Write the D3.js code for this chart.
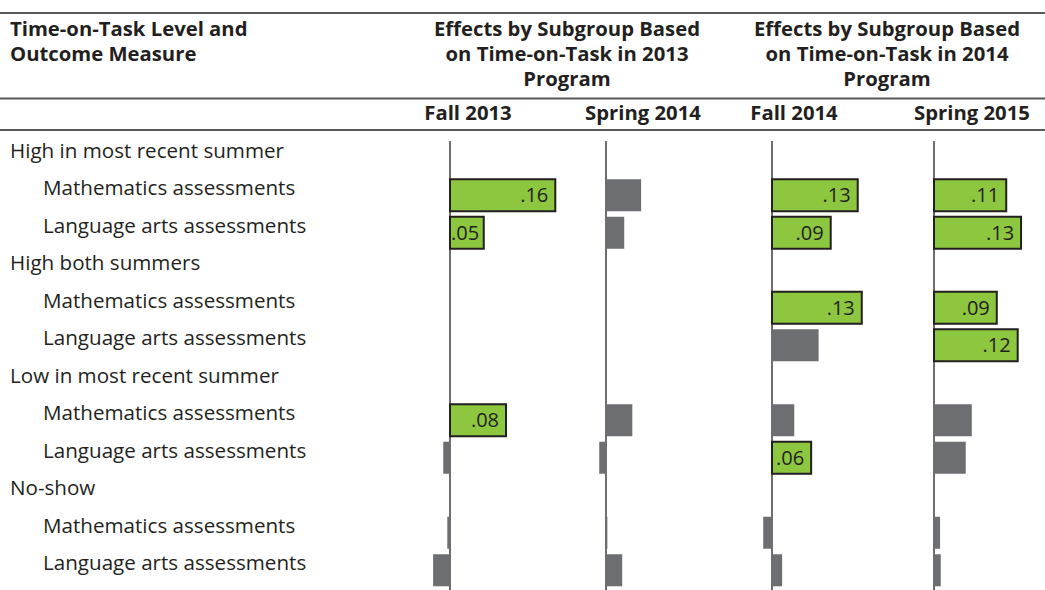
<!DOCTYPE html>
<html>
<head>
	<meta charset="utf-8">
	<script src="https://cdn.jsdelivr.net/npm/d3@7"></script>
	<style type="text/css">
		body { margin: 0; padding: 0; background: #fff; }
		svg text { font-family: "Open Sans", "Noto Sans", sans-serif; fill: #231f20; }
		.hdr { font-weight: bold; font-size: 20.3px; }
		.lbl { font-size: 20.6px; }
		.val { font-size: 20px; }
	</style>
</head>
<body>
	<script type="text/javascript">

		// row labels (group heading followed by its two outcome rows)
		var groups = ["High in most recent summer", "High both summers", "Low in most recent summer", "No-show"];
		var measures = ["Mathematics assessments", "Language arts assessments"];

		// panel headings
		var programs = ["Effects by Subgroup Based|on Time-on-Task in 2013|Program", "Effects by Subgroup Based|on Time-on-Task in 2014|Program"];
		var panels = ["Fall 2013", "Spring 2014", "Fall 2014", "Spring 2015"];

		// effect sizes, 8 outcome rows per panel (null = not estimated)
		var fall2013   = [0.156, 0.050, null, null, 0.083, -0.010, -0.004, -0.025];
		var spring2014 = [0.052, 0.027, null, null, 0.039, -0.010, 0.002, 0.024];
		var fall2014   = [0.127, 0.087, 0.133, 0.069, 0.033, 0.058, -0.013, 0.015];
		var spring2015 = [0.107, 0.129, 0.093, 0.124, 0.056, 0.047, 0.009, 0.010];

		// statistically significant (green, labelled)
		var sig2013f = [1, 1, 0, 0, 1, 0, 0, 0];
		var sig2014s = [0, 0, 0, 0, 0, 0, 0, 0];
		var sig2014f = [1, 1, 1, 0, 0, 1, 0, 0];
		var sig2015s = [1, 1, 1, 1, 0, 0, 0, 0];

		var values = [fall2013, spring2014, fall2014, spring2015];
		var sigs = [sig2013f, sig2014s, sig2014f, sig2015s];

		var W = 1045, H = 590;
		var svg = d3.select("body").append("svg").attr("width", W).attr("height", H);

		// build row list
		var rows = [];
		groups.forEach(function(g, gi){
			rows.push({id: "g" + gi, text: g, indent: false});
			measures.forEach(function(m, mi){
				rows.push({id: "g" + gi + "m" + mi, text: m, indent: true, k: gi * 2 + mi});
			});
		});

		var y = d3.scaleBand().domain(rows.map(function(r){ return r.id; })).range([133, 583]);

		// zero lines of each panel
		var zeros = [450, 606, 772, 934];
		var pxPerUnit = 675;
		var xs = zeros.map(function(z){
			return d3.scaleLinear().domain([0, 0.2]).range([z, z + 0.2 * pxPerUnit]);
		});

		// rules
		svg.selectAll("line.rule").data([13, 98.5, 130]).enter().append("line")
			.attr("class", "rule")
			.attr("x1", 0).attr("x2", W)
			.attr("y1", function(d){ return d; }).attr("y2", function(d){ return d; })
			.attr("stroke", "#58595b").attr("stroke-width", 2);

		// header
		var hdr = svg.append("text").attr("class", "hdr");
		hdr.append("tspan").attr("x", 10).attr("y", 36).text("Time-on-Task Level and");
		hdr.append("tspan").attr("x", 10).attr("y", 61).text("Outcome Measure");

		var progCx = [567, 887];
		programs.forEach(function(p, i){
			var t = svg.append("text").attr("class", "hdr").attr("text-anchor", "middle");
			p.split("|").forEach(function(line, li){
				t.append("tspan").attr("x", progCx[i]).attr("y", 36 + li * 25).text(line);
			});
		});

		var panelCx = [468, 643, 794, 972];
		svg.selectAll("text.panel").data(panels).enter().append("text")
			.attr("class", "hdr panel")
			.attr("text-anchor", "middle")
			.attr("x", function(d, i){ return panelCx[i]; })
			.attr("y", 120)
			.text(function(d){ return d; });

		// row labels
		svg.selectAll("text.lbl").data(rows).enter().append("text")
			.attr("class", "lbl")
			.attr("x", function(d){ return d.indent ? 43 : 10; })
			.attr("y", function(d){ return y(d.id) + y.bandwidth() / 2 + 6; })
			.text(function(d){ return d.text; });

		var fmt = function(v){ return d3.format(".2f")(v).replace(/^0/, ""); };
		var itemRows = rows.filter(function(r){ return r.indent; });
		var barH = 32;

		values.forEach(function(vals, p){
			var x = xs[p];
			var g = svg.append("g");

			g.append("line")
				.attr("x1", x(0)).attr("x2", x(0))
				.attr("y1", 141).attr("y2", H)
				.attr("stroke", "#6d6e71").attr("stroke-width", 2);

			var data = itemRows.map(function(r){ return {row: r, v: vals[r.k], s: sigs[p][r.k]}; })
				.filter(function(d){ return d.v !== null; });

			g.selectAll("rect").data(data).enter().append("rect")
				.attr("x", function(d){ return Math.min(x(0), x(d.v)); })
				.attr("y", function(d){ return y(d.row.id) + y.bandwidth() / 2 + 6 - barH / 2; })
				.attr("width", function(d){ return Math.abs(x(d.v) - x(0)); })
				.attr("height", barH)
				.attr("fill", function(d){ return d.s ? "#8dc63f" : "#6d6e71"; })
				.attr("stroke", function(d){ return d.s ? "#231f20" : "none"; })
				.attr("stroke-width", 2);

			g.selectAll("text").data(data.filter(function(d){ return d.s; })).enter().append("text")
				.attr("class", "val")
				.attr("text-anchor", "end")
				.attr("y", function(d){ return y(d.row.id) + y.bandwidth() / 2 + 13; })
				.text(function(d){ return fmt(d.v); })
				.attr("x", function(d){
					var w = this.getComputedTextLength();
					return Math.max(x(d.v) - 7, x(0) + w + 1);
				});
		});

	</script>
</body>
</html>
